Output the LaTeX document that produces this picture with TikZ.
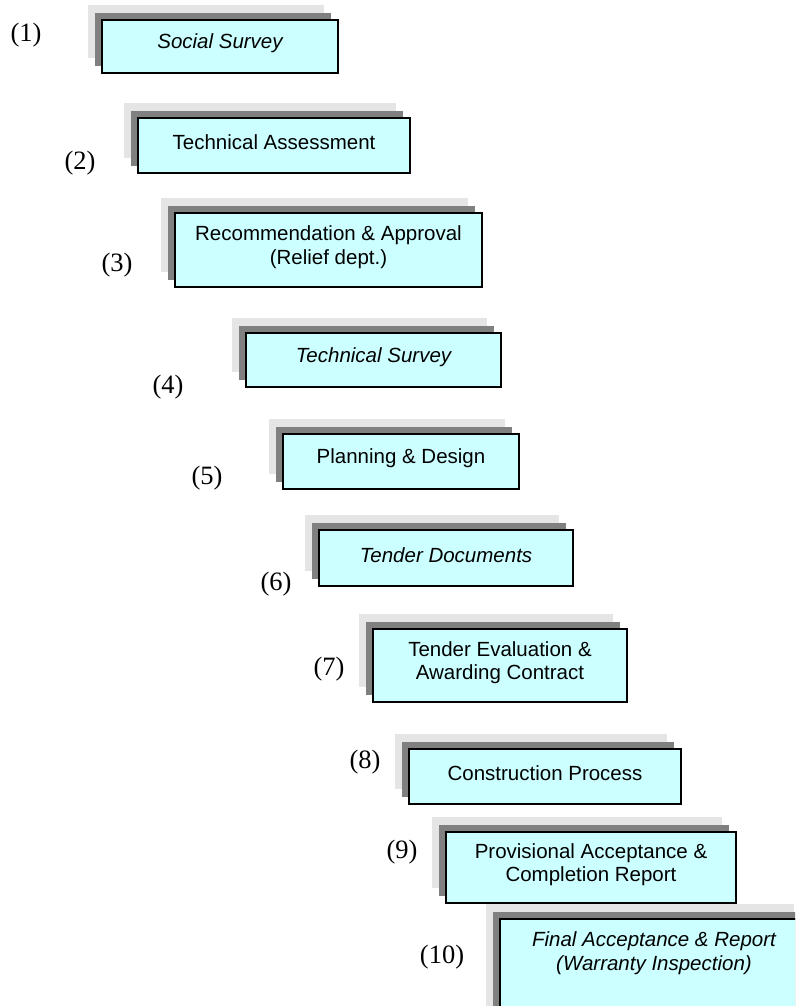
\documentclass[tikz,border=0pt]{standalone}
\usepackage{fontspec}
\setmainfont{Liberation Serif}
\newfontfamily\boxfont{Liberation Sans}
\definecolor{stagefill}{HTML}{CCFFFF}
\definecolor{shdark}{HTML}{808080}
\definecolor{shlight}{HTML}{E5E5E5}

% one stage: [extra depth of the shapes], name, left, top, right, bottom, text
\newcommand\stage[7][0]{%
  \pgfmathsetmacro\stw{#5-#3}%
  \pgfmathsetmacro\sth{#6-#4+#1}%
  \node[shlightbox, minimum width=\stw pt, minimum height=\sth pt, anchor=north west]
    (#2l) at (#3-14,#4-15) {};
  \node[shdarkbox, minimum width=\stw pt, minimum height=\sth pt, anchor=north west]
    (#2d) at (#3-7,#4-7) {};
  \node[stagebox, minimum width=\stw pt, minimum height=\sth pt, anchor=north west]
    (#2) at (#3,#4) {};
  \node[stagetext] (#2t) at ({(#3+#5)/2},{(#4+#6)/2-3}) {#7};
}

\begin{document}
\begin{tikzpicture}[x=1pt, y=-1pt,
  shlightbox/.style={fill=shlight, inner sep=0pt, outer sep=0pt},
  shdarkbox/.style={fill=shdark, inner sep=0pt, outer sep=0pt},
  stagebox/.style={fill=stagefill, draw=black, line width=1.4pt, inner sep=0pt, outer sep=0pt},
  stagetext/.style={align=center, inner sep=0pt, font=\boxfont\fontsize{20.5}{23.5}\selectfont},
  steplabel/.style={anchor=base, inner sep=0pt, font=\fontsize{26.5}{28}\selectfont}]
\useasboundingbox (0,0) rectangle (795,1006);
\clip (0,0) rectangle (795,1006);

\stage{s1}{102}{20}{338}{73}{\itshape Social Survey}
\stage{s2}{138}{118}{410}{173}{Technical Assessment}
\stage{s3}{175}{213}{482}{287}{Recommendation \& Approval\\(Relief dept.)}
\stage{s4}{246}{333}{501}{387}{\itshape Technical Survey}
\stage{s5}{283}{434}{519}{489}{Planning \& Design}
\stage{s6}{319}{530}{573}{586}{\itshape Tender Documents}
\stage{s7}{373}{629}{627}{702}{Tender Evaluation \&\\Awarding Contract}
\stage{s8}{409}{749}{681}{804}{Construction Process}
\stage{s9}{446}{832}{736}{903}{Provisional Acceptance \&\\Completion Report}
\stage[30]{s10}{500}{919}{808}{993}{\itshape Final Acceptance \& Report\\\itshape (Warranty Inspection)}

\node[steplabel] (l1) at (26,42) {(1)};
\node[steplabel] (l2) at (80,169) {(2)};
\node[steplabel] (l3) at (117,271) {(3)};
\node[steplabel] (l4) at (168,393) {(4)};
\node[steplabel] (l5) at (207,484) {(5)};
\node[steplabel] (l6) at (276,590) {(6)};
\node[steplabel] (l7) at (329,675) {(7)};
\node[steplabel] (l8) at (365,768) {(8)};
\node[steplabel] (l9) at (402,858) {(9)};
\node[steplabel] (l10) at (442,963) {(10)};
\end{tikzpicture}
\end{document}
